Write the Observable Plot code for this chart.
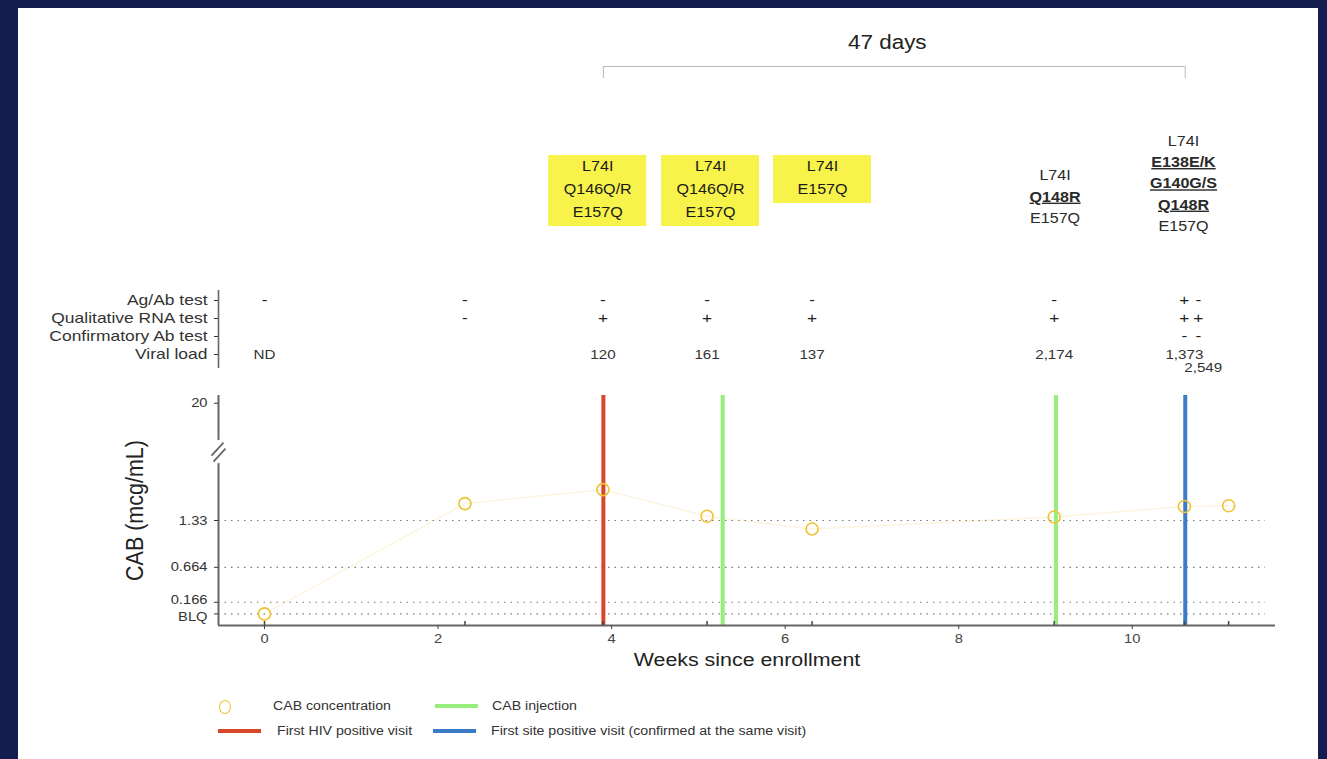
<!DOCTYPE html>
<html>
<head>
<meta charset="utf-8">
<script src="https://cdn.jsdelivr.net/npm/d3@7"></script>
<script src="https://cdn.jsdelivr.net/npm/@observablehq/plot@0.6"></script>
<style>
html,body{margin:0;padding:0;background:#151c50;width:1327px;height:759px;overflow:hidden;font-family:"Liberation Sans",Arial,Helvetica,sans-serif;}
#panel{position:absolute;left:18px;top:8px;width:1300px;height:751px;background:#fff;overflow:hidden;}
.lg{position:absolute;}
.lgText{position:absolute;font-size:12.3px;color:#333;white-space:nowrap;transform:scaleX(1.15);transform-origin:left center;line-height:14px;}
</style>
</head>
<body>
<div id="panel"></div>
<script>
// ---------------- DATA ----------------
const cabWeeks = [0, 2.31, 3.9, 5.1, 6.31, 9.1, 10.6, 11.11];
const cabConc  = [0, 1.57, 1.77, 1.39, 1.21, 1.38, 1.53, 1.54]; // 0 = BLQ

const injectionWeeks = [5.28, 9.12];
const firstHivPositiveWeeks = [3.905];
const firstSitePositiveWeeks = [10.61];
const intervalLabel = "47 days";

const visitWeeks  = [0, 2.31, 3.9, 5.1, 6.31, 9.1, 10.6, 10.76];
const agAbTest    = ["-", "-", "-", "-", "-", "-", "+", "-"];
const rnaTest     = ["", "-", "+", "+", "+", "+", "+", "+"];
const confirmTest = ["", "", "", "", "", "", "-", "-"];
const viralLoad   = ["ND", "", "120", "161", "137", "2,174", "1,373", "2,549"];
const testRows    = ["Ag/Ab test", "Qualitative RNA test", "Confirmatory Ab test", "Viral load"];

const mutationWeeks = [3.84, 5.14, 6.43, 9.11, 10.59];
const mutationLines = [
  ["L74I", "Q146Q/R", "E157Q"],
  ["L74I", "Q146Q/R", "E157Q"],
  ["L74I", "E157Q"],
  ["L74I", "Q148R", "E157Q"],
  ["L74I", "E138E/K", "G140G/S", "Q148R", "E157Q"]
];
const mutationHighlighted = [true, true, true, false, false];
const keyMutations = ["Q148R", "E138E/K", "G140G/S"];

const yTickValues = [0, 0.166, 0.664, 1.33, 20];
const yTickLabels = ["BLQ", "0.166", "0.664", "1.33", "20"];
const xTickValues = [0, 2, 4, 6, 8, 10];
const xLabel = "Weeks since enrollment";
const yLabel = "CAB (mcg/mL)";

const legendItems = [
  {label: "CAB concentration", kind: "circle", key: "conc"},
  {label: "CAB injection", kind: "line", key: "inj"},
  {label: "First HIV positive visit", kind: "line", key: "hiv"},
  {label: "First site positive visit (confirmed at the same visit)", kind: "line", key: "site"}
];

// ---------------- STYLE / LAYOUT ----------------
const COLORS = {conc: "#efc331", inj: "#96ef7b", hiv: "#d8472c", site: "#3b7cc6", highlight: "#f8f34a", axis: "#666", text: "#222"};
const FONT = "'Liberation Sans', Arial, Helvetica, sans-serif";
const STRETCH = 1.15;
const W = 1300, ML = 200, MR = 43;
const xDomain = [-0.53, 11.65];
const panel = document.getElementById("panel");
const baseStyle = {fontFamily: FONT, background: "transparent", overflow: "visible", color: COLORS.text};

function place(node, top) {
  node.style.position = "absolute";
  node.style.left = "0px";
  node.style.top = top + "px";
  panel.appendChild(node);
  node.querySelectorAll("text").forEach(t => {
    const tr = t.getAttribute("transform") || "";
    t.setAttribute("transform", tr + (tr.includes("rotate") ? ` scale(1,${STRETCH})` : ` scale(${STRETCH},1)`));
  });
}

// ---------------- PLOT 1 : interval bracket + mutations ----------------
const H1 = 240;
const bracket = [{start: firstHivPositiveWeeks[0], end: firstSitePositiveWeeks[0], label: intervalLabel}];
const groups = mutationWeeks.map((w, i) => ({week: w, lines: mutationLines[i], hi: mutationHighlighted[i]}));
const marks1 = [
  Plot.rect(bracket, {x1: "start", x2: "end", fill: "#b8b8b8", insetTop: 58, insetBottom: H1 - 59}),
  Plot.ruleX(bracket.flatMap(d => [d.start, d.end]), {stroke: "#b8b8b8", strokeWidth: 1, insetTop: 58, insetBottom: H1 - 70}),
  Plot.text(bracket, {x: d => (d.start + d.end) / 2, text: "label", frameAnchor: "top", lineAnchor: "middle", dy: 34, dx: -7, fontSize: 19.5, fill: "#222"})
];
groups.forEach(g => {
  const n = g.lines.length;
  if (g.hi) {
    const top = 147, h = 23 * n + 2;
    marks1.push(Plot.rect([g], {x1: "week", x2: "week", fill: COLORS.highlight, insetLeft: -49, insetRight: -49, insetTop: top, insetBottom: H1 - top - h}));
  }
  const bottom = 198 + 4 * n;
  g.lines.forEach((line, i) => {
    const dy = g.hi ? 158 + 23 * i : bottom - 21.3 * (n - 1 - i);
    const key = !g.hi && keyMutations.includes(line);
    marks1.push(Plot.text([{week: g.week, text: line}], {
      x: "week", text: "text", frameAnchor: "top", lineAnchor: "middle", dy, fontSize: 14,
      fontWeight: key ? "bold" : "normal", fill: g.hi ? "#1a1a1a" : "#2a2a2a"
    }));
  });
});
const plot1 = Plot.plot({
  width: W, height: H1, marginLeft: ML, marginRight: MR, marginTop: 0, marginBottom: 0,
  style: baseStyle, x: {domain: xDomain, axis: null},
  marks: marks1
});
plot1.querySelectorAll("text").forEach(t => {
  if (keyMutations.includes(t.textContent)) t.style.textDecoration = "underline";
});
place(plot1, 0);

// ---------------- PLOT 2 : test table ----------------
const H2 = 100;
const testValues = [agAbTest, rnaTest, confirmTest, viralLoad];
const testRecords = [];
testRows.forEach((row, r) => visitWeeks.forEach((w, i) => {
  const v = testValues[r][i];
  if (v) testRecords.push({row, week: w, value: v, vl: r === 3, crowded: i > 0 && w - visitWeeks[i - 1] < 0.3});
}));
const plot2 = Plot.plot({
  width: W, height: H2, marginLeft: ML, marginRight: MR, marginTop: 10, marginBottom: 17,
  style: baseStyle,
  x: {domain: xDomain, axis: null},
  y: {type: "band", domain: testRows, padding: 0, axis: null},
  marks: [
    Plot.ruleX([xDomain[0]], {stroke: COLORS.axis, strokeWidth: 1.6, insetBottom: -5}),
    Plot.axisY({tickSize: 4, tickPadding: 7, fontSize: 15.2, label: null, color: "#333"}),
    Plot.text(testRecords.filter(d => !d.vl), {x: "week", y: "row", text: "value", fontSize: 15, fill: "#222"}),
    Plot.text(testRecords.filter(d => d.vl && !d.crowded), {x: "week", y: "row", text: "value", fontSize: 13.2, fill: "#333"}),
    Plot.text(testRecords.filter(d => d.vl && d.crowded), {x: "week", y: "row", text: "value", fontSize: 13.2, fill: "#333", dx: 5, dy: 13})
  ]
});
place(plot2, 272);

// ---------------- PLOT 3 : CAB concentration ----------------
const H3 = 300;
const yDomain = [-0.165, 3.11];
const yTopSlot = 3.0;          // display slot of the broken upper range ("20")
const breakLow = 2.14, breakHigh = 2.47, breakMid = 2.31;
const yPos = v => v >= 20 ? yTopSlot : v;
const yTicks = yTickValues.map((v, i) => ({pos: yPos(v), label: yTickLabels[i], i}));
const cab = cabWeeks.map((w, i) => ({week: w, conc: cabConc[i]}));
const breakSymbol = {
  draw(ctx, size) {
    const k = Math.sqrt(size / Math.PI) / 8;
    ctx.moveTo(-7 * k, 4 * k); ctx.lineTo(5 * k, -9 * k);
    ctx.moveTo(-5 * k, 10 * k); ctx.lineTo(7 * k, -3 * k);
  }
};
const frameH = H3 - 15 - 55;
const yLabelStyle = {y: "pos", text: "label", frameAnchor: "left", textAnchor: "end", dx: -11, fontSize: 12.8, fill: "#333"};
const plot3 = Plot.plot({
  width: W, height: H3, marginLeft: ML, marginRight: MR, marginTop: 15, marginBottom: 55,
  style: baseStyle,
  x: {domain: xDomain, axis: null},
  y: {domain: yDomain, axis: null},
  marks: [
    Plot.ruleY(yTickValues.filter(v => v < 20).map(yPos), {stroke: "#7a7a7a", strokeWidth: 1.2, strokeDasharray: "1.5,5", insetRight: 10}),
    Plot.line(cab, {x: "week", y: d => yPos(d.conc), stroke: COLORS.conc, strokeOpacity: 0.16, strokeWidth: 1.5}),
    Plot.ruleX(firstHivPositiveWeeks, {y1: yDomain[0], y2: yDomain[1], stroke: COLORS.hiv, strokeWidth: 4}),
    Plot.ruleX(injectionWeeks, {y1: yDomain[0], y2: yDomain[1], stroke: COLORS.inj, strokeWidth: 4}),
    Plot.ruleX(firstSitePositiveWeeks, {y1: yDomain[0], y2: yDomain[1], stroke: COLORS.site, strokeWidth: 4}),
    Plot.dot(cab, {x: "week", y: d => yPos(d.conc), r: 6, stroke: COLORS.conc, strokeWidth: 1.6, fill: "none"}),
    Plot.ruleY([yDomain[0]], {stroke: COLORS.axis, strokeWidth: 2.2}),
    Plot.ruleX([{a: yDomain[0], b: breakLow}, {a: breakHigh, b: yDomain[1]}], {x: xDomain[0], y1: "a", y2: "b", stroke: COLORS.axis, strokeWidth: 2}),
    Plot.dot([breakMid], {y: d => d, frameAnchor: "left", symbol: breakSymbol, r: 8, stroke: COLORS.axis, strokeWidth: 1.8, fill: "none"}),
    Plot.tickX(cab, {x: "week", stroke: "#444", strokeWidth: 1.5, insetTop: frameH - 4}),
    Plot.axisY({ticks: yTickValues.map(yPos), tickFormat: () => "", tickSize: 4, label: null, color: "#333"}),
    // tick labels; the two lowest ticks sit very close, so their labels are nudged apart
    Plot.text(yTicks.filter(d => d.i >= 2), yLabelStyle),
    Plot.text(yTicks.filter(d => d.i === 0), {...yLabelStyle, dy: 2.5}),
    Plot.text(yTicks.filter(d => d.i === 1), {...yLabelStyle, dy: -2.5}),
    Plot.axisX({ticks: xTickValues, tickSize: 4, tickPadding: 4, fontSize: 12.8, label: null, color: "#444"}),
    Plot.text([xLabel], {text: d => d, frameAnchor: "bottom", lineAnchor: "middle", dy: 35, fontSize: 18.6, fill: "#222"}),
    Plot.text([yLabel], {text: d => d, frameAnchor: "left", textAnchor: "middle", lineAnchor: "middle", rotate: -90, dx: -83, fontSize: 21.5, fill: "#222"})
  ]
});
place(plot3, 372);

// ---------------- LEGEND (HTML) ----------------
const legendLayout = {
  conc: {mark: [201, 692], text: [255, 698]},
  inj:  {mark: [417, 698], text: [474, 698]},
  hiv:  {mark: [200, 723], text: [259, 723]},
  site: {mark: [415, 723], text: [473, 723]}
};
legendItems.forEach(item => {
  const L = legendLayout[item.key];
  const m = document.createElement("div");
  m.className = "lg";
  if (item.kind === "circle") {
    Object.assign(m.style, {left: L.mark[0] + "px", top: L.mark[1] + "px", width: "10px", height: "12px", border: `1.5px solid ${COLORS[item.key]}`, borderRadius: "50%"});
  } else {
    Object.assign(m.style, {left: L.mark[0] + "px", top: (L.mark[1] - 2) + "px", width: "43px", height: "4px", background: COLORS[item.key]});
  }
  panel.appendChild(m);
  const t = document.createElement("div");
  t.className = "lgText";
  t.textContent = item.label;
  t.style.left = L.text[0] + "px";
  t.style.top = (L.text[1] - 7) + "px";
  panel.appendChild(t);
});
</script>
</body>
</html>
